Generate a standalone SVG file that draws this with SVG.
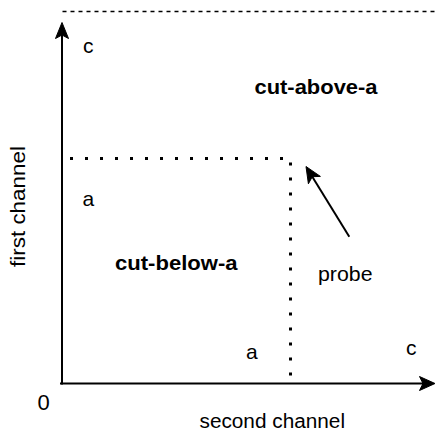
<svg xmlns="http://www.w3.org/2000/svg" width="436" height="430" viewBox="0 0 436 430">
  <style>
    text { font-family: "Liberation Sans", Arial, sans-serif; fill: #000; }
    .lbl { font-size: 20px; }
    .bold { font-size: 20px; font-weight: bold; }
    .sym { font-size: 21px; }
    .axis { stroke: #000; stroke-width: 2; fill: none; }
    .head { fill: #000; stroke: #000; stroke-width: 1; stroke-linejoin: miter; }
    .dotted { stroke: #000; stroke-width: 3; stroke-dasharray: 3 12; fill: none; }
    .dashed { stroke: #000; stroke-width: 1.5; stroke-dasharray: 4 4; fill: none; }
  </style>
  <rect width="436" height="430" fill="#fff"/>

  <g id="connectors">
    <line class="dashed" x1="62.5" y1="11.5" x2="436" y2="11.5"/>
    <line class="axis" x1="62" y1="384.5" x2="62" y2="34"/>
    <path class="head" d="M62,22.5 L55.5,38.5 L62,35 L68.5,38.5 Z"/>
    <line class="axis" x1="60" y1="383.5" x2="424" y2="383.5"/>
    <path class="head" d="M435,383.5 L419.5,376.5 L423,383.5 L419.5,390.5 Z"/>
    <line class="dotted" x1="70" y1="158.5" x2="286" y2="158.5"/>
    <line class="dotted" x1="290.5" y1="162.5" x2="290.5" y2="377"/>
    <line class="axis" x1="349.3" y1="236.7" x2="312" y2="176.2"/>
    <path class="head" d="M306,166.5 L320.4,176.4 L312.3,176.7 L308.4,183.8 Z"/>
  </g>

  <g id="label-c-top"><text class="sym" x="83" y="53">c</text></g>
  <g id="label-cut-above"><text class="bold" x="254.5" y="94" textLength="123" lengthAdjust="spacingAndGlyphs">cut-above-a</text></g>
  <g id="label-first-channel"><text class="lbl" transform="translate(25,267) rotate(-90)" x="0" y="0" textLength="121" lengthAdjust="spacingAndGlyphs">first channel</text></g>
  <g id="label-a-left"><text class="sym" x="82.5" y="205.5">a</text></g>
  <g id="label-cut-below"><text class="bold" x="115" y="270" textLength="122.5" lengthAdjust="spacingAndGlyphs">cut-below-a</text></g>
  <g id="label-probe"><text class="lbl" x="318" y="280.5" textLength="54.5" lengthAdjust="spacingAndGlyphs">probe</text></g>
  <g id="label-a-bottom"><text class="sym" x="246" y="359">a</text></g>
  <g id="label-c-right"><text class="sym" x="406" y="355">c</text></g>
  <g id="label-zero"><text x="37.5" y="409.5" style="font-size:22px">0</text></g>
  <g id="label-second-channel"><text class="lbl" x="199.5" y="427.5" textLength="145.5" lengthAdjust="spacingAndGlyphs">second channel</text></g>
</svg>
